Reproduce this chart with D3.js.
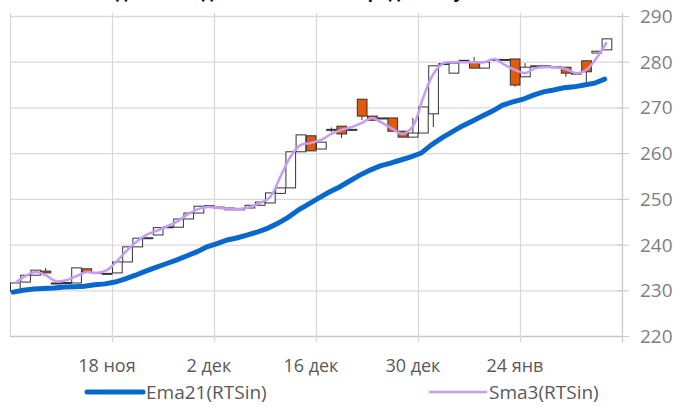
<!DOCTYPE html>
<html>
<head>
<meta charset="utf-8">
<script src="https://cdn.jsdelivr.net/npm/d3@7"></script>
<style>
  body { margin: 0; background: #fff; }
  text { font-family: "Open Sans", "Noto Sans", sans-serif; }
</style>
</head>
<body>
<div id="chart"></div>
<script>
var svgWidth = 675;
var svgHeight = 406;

// daily candles, oldest first
var opens  = [229.8, 231.8, 233.3, 234.2, 231.5, 231.6, 231.6, 234.7, 233.8, 233.6,
              233.8, 236.2, 239.5, 241.4, 242.1, 243.8, 243.8, 245.6, 246.9, 248.4,
              248.1, 247.6, 247.6, 248.0, 248.6, 249.1, 251.2, 252.4, 260.3, 263.8,
              260.9, 265.1, 265.9, 265.0, 271.8, 268.1, 267.6, 267.7, 264.8, 263.5,
              264.4, 268.6, 279.4, 277.5, 280.2, 279.9, 278.6, 280.3, 280.3, 280.6,
              276.7, 279.0, 278.9, 278.8, 278.8, 277.3, 280.2, 281.9, 282.6];
var closes = [231.6, 233.3, 234.4, 233.8, 231.6, 231.7, 234.9, 234.0, 233.9, 233.7,
              236.2, 239.5, 241.4, 241.5, 243.7, 243.9, 245.6, 246.9, 248.4, 248.5,
              248.2, 248.0, 247.9, 248.6, 249.3, 251.3, 252.4, 260.3, 264.0, 260.5,
              262.4, 265.2, 264.2, 265.2, 268.1, 267.2, 267.7, 264.8, 263.5, 264.4,
              270.1, 279.1, 279.6, 279.7, 280.3, 278.6, 279.9, 280.5, 280.5, 274.9,
              278.8, 279.1, 279.1, 278.9, 277.5, 277.5, 277.8, 282.3, 285.0];
var highs  = [231.6, 233.3, 234.4, 234.9, 231.6, 231.7, 234.9, 234.7, 233.9, 233.7,
              236.2, 239.5, 241.4, 241.5, 243.7, 243.9, 245.6, 246.9, 248.4, 248.5,
              248.2, 248.0, 247.9, 248.6, 249.3, 251.3, 252.4, 260.3, 264.0, 263.8,
              262.4, 265.6, 265.9, 265.2, 271.8, 268.1, 267.7, 267.7, 264.8, 267.7,
              270.1, 279.1, 279.6, 279.7, 280.3, 281.0, 279.9, 280.5, 280.5, 280.6,
              279.7, 279.1, 279.1, 278.9, 278.8, 277.5, 280.2, 282.3, 285.0];
var lows   = [229.8, 231.8, 233.3, 233.8, 231.5, 231.6, 231.6, 234.0, 233.8, 233.6,
              233.8, 236.2, 239.5, 241.4, 242.1, 243.8, 243.8, 245.6, 246.9, 248.4,
              248.1, 247.6, 247.6, 248.0, 248.6, 249.1, 251.2, 252.4, 260.3, 260.5,
              260.9, 264.6, 263.3, 265.0, 267.2, 267.2, 267.6, 264.8, 263.5, 263.5,
              264.4, 265.7, 279.4, 277.5, 280.2, 278.6, 278.6, 280.3, 280.3, 274.5,
              276.7, 279.0, 278.9, 278.8, 276.7, 277.3, 274.9, 281.9, 282.6];

var ema21 = [229.6, 230.0, 230.3, 230.4, 230.5, 230.7, 230.8, 230.9, 231.2, 231.4,
             231.8, 232.5, 233.3, 234.2, 235.0, 235.8, 236.6, 237.5, 238.4, 239.5,
             240.2, 241.0, 241.5, 242.1, 242.8, 243.6, 244.7, 246.0, 247.6, 248.9,
             250.2, 251.5, 252.6, 253.9, 255.2, 256.3, 257.2, 257.8, 258.5, 259.2,
             260.0, 261.8, 263.3, 264.6, 265.9, 267.0, 268.1, 269.2, 270.5, 271.2,
             271.8, 272.7, 273.4, 273.8, 274.3, 274.5, 274.9, 275.3, 276.2];
var sma3  = [231.6, 233.1, 234.0, 233.3, 232.0, 232.2, 233.1, 234.0, 233.8, 234.4,
             236.4, 238.8, 240.8, 242.3, 243.1, 244.1, 245.2, 246.7, 247.8, 248.2,
             248.0, 247.8, 247.8, 248.2, 249.1, 250.4, 254.8, 259.2, 261.8, 262.2,
             262.9, 264.2, 265.1, 265.7, 266.6, 267.7, 266.6, 265.3, 264.2, 265.9,
             272.1, 277.3, 279.7, 279.9, 279.9, 279.9, 279.9, 280.6, 279.3, 278.2,
             277.5, 278.6, 278.8, 278.8, 278.4, 277.5, 278.2, 280.8, 284.3];

var slotCount = 60;
var tickIndex = [9, 19, 29, 39, 49];
var tickLabels = ["18 ноя", "2 дек", "16 дек", "30 дек", "24 янв"];
var yTicks = [220, 230, 240, 250, 260, 270, 280, 290];

var svg = d3.select("#chart")
    .append("svg")
    .attr("width", svgWidth)
    .attr("height", svgHeight);

var x = d3.scaleBand()
    .domain(d3.range(slotCount))
    .range([10, 622]);

var y = d3.scaleLinear()
    .domain([220, 290])
    .range([336, 16]);

// title, mostly above the window (as in the source picture)
svg.append("text")
    .attr("x", 300)
    .attr("y", -2)
    .attr("text-anchor", "middle")
    .attr("font-size", "17px")
    .attr("font-weight", "bold")
    .attr("fill", "#000")
    .text("Индекс РТС: дневные свечи и средние, пункты");

// horizontal grid
svg.append("g")
    .selectAll("line")
    .data(yTicks)
    .enter()
    .append("line")
    .attr("x1", 10)
    .attr("x2", 622)
    .attr("y1", d => y(d) + 0.5)
    .attr("y2", d => y(d) + 0.5)
    .attr("stroke", d => d == 220 ? "#c8c8c8" : "#d9d9d9")
    .attr("stroke-width", 1.3);

// vertical grid every 10 sessions
var vGrid = d3.range(0, slotCount, 10).map(i => x(i)).concat([622]);
svg.append("g")
    .selectAll("line")
    .data(vGrid)
    .enter()
    .append("line")
    .attr("x1", d => Math.round(d) + 0.5)
    .attr("x2", d => Math.round(d) + 0.5)
    .attr("y1", 13)
    .attr("y2", d => d > 10 ? 342 : 336)
    .attr("stroke", d => d == 622 ? "#c8c8c8" : "#d9d9d9")
    .attr("stroke-width", 1.3);

// right axis ticks + labels
svg.append("g")
    .selectAll("line")
    .data(yTicks)
    .enter()
    .append("line")
    .attr("x1", 617)
    .attr("x2", 629)
    .attr("y1", d => y(d) + 0.5)
    .attr("y2", d => y(d) + 0.5)
    .attr("stroke", "#c8c8c8");

svg.append("g")
    .selectAll("text")
    .data(yTicks)
    .enter()
    .append("text")
    .attr("x", 640)
    .attr("y", d => y(d) + 7)
    .attr("font-size", "19px")
    .attr("fill", "#7f7f7f")
    .text(d => d);

// bottom labels
svg.append("g")
    .selectAll("text")
    .data(tickIndex)
    .enter()
    .append("text")
    .attr("x", d => x(d) + x.bandwidth() / 2)
    .attr("y", 372)
    .attr("text-anchor", "middle")
    .attr("font-size", "18px")
    .attr("fill", "#595959")
    .text((d, i) => tickLabels[i]);

// candles
var idx = d3.range(opens.length);
var candles = svg.append("g");

candles.selectAll("line")
    .data(idx)
    .enter()
    .append("line")
    .attr("x1", d => x(d) + x.bandwidth() / 2)
    .attr("x2", d => x(d) + x.bandwidth() / 2)
    .attr("y1", d => y(highs[d]))
    .attr("y2", d => y(lows[d]))
    .attr("stroke", "#333")
    .attr("stroke-width", 1);

candles.selectAll("rect")
    .data(idx)
    .enter()
    .append("rect")
    .attr("x", d => x(d) + 0.5)
    .attr("width", x.bandwidth() - 0.5)
    .attr("y", d => y(Math.max(opens[d], closes[d])))
    .attr("height", d => Math.max(1, Math.abs(y(opens[d]) - y(closes[d]))))
    .attr("fill", d => closes[d] >= opens[d] ? "#fff" : "#e05a0a")
    .attr("stroke", "#333")
    .attr("stroke-width", 1);

// moving averages
var emaLine = d3.line()
    .x((d, i) => x(i) + x.bandwidth() / 2 - 2)
    .y(d => y(d));

svg.append("path")
    .datum(ema21)
    .attr("d", emaLine)
    .attr("fill", "none")
    .attr("stroke", "#0868cc")
    .attr("stroke-width", 5)
    .attr("stroke-linecap", "round");

var smaLine = d3.line()
    .x((d, i) => x(i) + x.bandwidth() / 2)
    .y(d => y(d))
    .curve(d3.curveCatmullRom);

svg.append("path")
    .datum(sma3)
    .attr("d", smaLine)
    .attr("fill", "none")
    .attr("stroke", "#c59cf2")
    .attr("stroke-width", 2.5);

// legend
var legend = [
    { name: "Ema21(RTSin)", color: "#0868cc", width: 5, x: 87 },
    { name: "Sma3(RTSin)", color: "#c59cf2", width: 2.5, x: 430 }
];

var lg = svg.append("g")
    .selectAll("g")
    .data(legend)
    .enter()
    .append("g");

lg.append("line")
    .attr("x1", d => d.x)
    .attr("x2", d => d.x + 56)
    .attr("y1", 392)
    .attr("y2", 392)
    .attr("stroke", d => d.color)
    .attr("stroke-width", d => d.width)
    .attr("stroke-linecap", "round");

lg.append("text")
    .attr("x", d => d.x + 59)
    .attr("y", 399)
    .attr("font-size", "19px")
    .attr("fill", "#595959")
    .text(d => d.name);
</script>
</body>
</html>
